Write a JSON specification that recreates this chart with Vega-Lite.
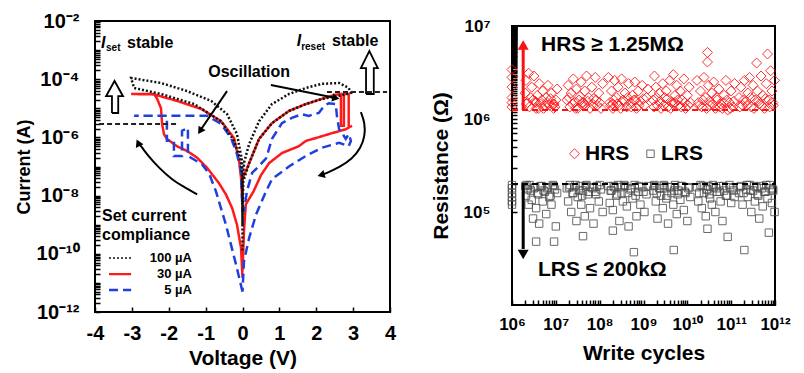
{
"$schema": "https://vega.github.io/schema/vega-lite/v6.json",
"background": "white",
"padding": {"left": 14, "top": 10, "right": 2, "bottom": 2},
"spacing": 32,
"center": true,
"resolve": {"scale": {"color": "independent", "shape": "independent", "size": "independent", "strokeDash": "independent", "strokeWidth": "independent"}, "legend": {"color": "independent", "shape": "independent", "size": "independent", "strokeDash": "independent", "strokeWidth": "independent"}},
"config": {
  "font": "Liberation Sans",
  "view": {"stroke": "#000", "strokeWidth": 2},
  "axis": {"domain": false, "grid": false, "tickColor": "#000", "tickSize": -5, "tickWidth": 1.5, "labelFont": "Liberation Sans", "labelFontWeight": "bold", "labelColor": "#000", "titleFont": "Liberation Sans", "titleFontWeight": "bold", "titleColor": "#000", "labelOverlap": false, "labelFlush": false},
  "legend": {"labelFont": "Liberation Sans", "titleFont": "Liberation Sans"}
},
"datasets": {
  "iv": [
    {"s":"30 µA","o":1,"v":0,"i":1.5e-11},{"s":"30 µA","o":2,"v":-0.04,"i":1.6e-10},{"s":"30 µA","o":3,"v":-0.15,"i":1.0e-9},{"s":"30 µA","o":4,"v":-0.28,"i":3.7e-9},{"s":"30 µA","o":5,"v":-0.45,"i":1.1e-8},{"s":"30 µA","o":6,"v":-0.64,"i":2.7e-8},{"s":"30 µA","o":7,"v":-0.83,"i":5.5e-8},{"s":"30 µA","o":8,"v":-0.96,"i":9.0e-8},{"s":"30 µA","o":9,"v":-1.23,"i":2.0e-7},{"s":"30 µA","o":10,"v":-1.50,"i":3.4e-7},{"s":"30 µA","o":11,"v":-1.78,"i":5.0e-7},{"s":"30 µA","o":12,"v":-2.05,"i":8.9e-7},{"s":"30 µA","o":13,"v":-2.13,"i":1.3e-6},{"s":"30 µA","o":14,"v":-2.18,"i":2.9e-6},{"s":"30 µA","o":15,"v":-2.21,"i":1.0e-5},{"s":"30 µA","o":16,"v":-2.32,"i":2.2e-5},{"s":"30 µA","o":17,"v":-2.40,"i":3.1e-5},{"s":"30 µA","o":18,"v":-3.02,"i":3.1e-5},{"s":"30 µA","o":19,"v":-2.40,"i":3.0e-5},{"s":"30 µA","o":20,"v":-1.78,"i":1.8e-5},{"s":"30 µA","o":21,"v":-1.12,"i":9.5e-6},{"s":"30 µA","o":22,"v":-0.58,"i":3.6e-6},{"s":"30 µA","o":23,"v":-0.23,"i":9.5e-7},{"s":"30 µA","o":24,"v":-0.09,"i":1.5e-7},{"s":"30 µA","o":25,"v":-0.04,"i":4.0e-8},{"s":"30 µA","o":26,"v":0,"i":5.0e-9},{"s":"30 µA","o":27,"v":0,"i":3.7e-8},{"s":"30 µA","o":28,"v":0.18,"i":1.3e-7},{"s":"30 µA","o":29,"v":0.45,"i":8.9e-7},{"s":"30 µA","o":30,"v":0.80,"i":3.1e-6},{"s":"30 µA","o":31,"v":1.26,"i":8.1e-6},{"s":"30 µA","o":32,"v":1.72,"i":1.4e-5},{"s":"30 µA","o":33,"v":2.15,"i":2.1e-5},{"s":"30 µA","o":34,"v":2.50,"i":2.9e-5},{"s":"30 µA","o":35,"v":2.67,"i":3.1e-5},{"s":"30 µA","o":36,"v":2.67,"i":2.5e-6},{"s":"30 µA","o":37,"v":2.75,"i":2.5e-6},{"s":"30 µA","o":38,"v":2.75,"i":3.1e-5},{"s":"30 µA","o":39,"v":2.88,"i":3.1e-5},{"s":"30 µA","o":40,"v":2.88,"i":2.2e-6},{"s":"30 µA","o":41,"v":2.97,"i":2.5e-6},{"s":"30 µA","o":42,"v":2.80,"i":1.9e-6},{"s":"30 µA","o":43,"v":2.43,"i":1.4e-6},{"s":"30 µA","o":44,"v":1.99,"i":9.5e-7},{"s":"30 µA","o":45,"v":1.72,"i":7.6e-7},{"s":"30 µA","o":46,"v":1.53,"i":5.0e-7},{"s":"30 µA","o":47,"v":1.07,"i":2.9e-7},{"s":"30 µA","o":48,"v":0.72,"i":1.3e-7},{"s":"30 µA","o":49,"v":0.50,"i":5.0e-8},{"s":"30 µA","o":50,"v":0.30,"i":1.4e-8},{"s":"30 µA","o":51,"v":0.09,"i":5.0e-9},{"s":"30 µA","o":52,"v":0.04,"i":6.0e-10},{"s":"30 µA","o":53,"v":0,"i":2.5e-11},
    {"s":"5 µA","o":1,"v":0,"i":5e-12},{"s":"5 µA","o":2,"v":-0.18,"i":4.5e-11},{"s":"5 µA","o":3,"v":-0.45,"i":1.0e-9},{"s":"5 µA","o":4,"v":-0.72,"i":1.4e-8},{"s":"5 µA","o":5,"v":-0.90,"i":5.5e-8},{"s":"5 µA","o":6,"v":-1.10,"i":1.2e-7},{"s":"5 µA","o":7,"v":-1.48,"i":2.3e-7},{"s":"5 µA","o":8,"v":-1.48,"i":2.1e-6},{"s":"5 µA","o":9,"v":-1.64,"i":1.7e-6},{"s":"5 µA","o":10,"v":-1.64,"i":2.3e-7},{"s":"5 µA","o":11,"v":-1.80,"i":2.3e-7},{"s":"5 µA","o":12,"v":-1.86,"i":2.3e-7},{"s":"5 µA","o":13,"v":-1.86,"i":7.6e-7},{"s":"5 µA","o":14,"v":-2.05,"i":7.6e-7},{"s":"5 µA","o":15,"v":-2.05,"i":5.5e-6},{"s":"5 µA","o":16,"v":-2.94,"i":5.5e-6},{"s":"5 µA","o":17,"v":-0.96,"i":5.5e-6},{"s":"5 µA","o":18,"v":-0.58,"i":2.9e-6},{"s":"5 µA","o":19,"v":-0.31,"i":9.5e-7},{"s":"5 µA","o":20,"v":-0.15,"i":2.7e-7},{"s":"5 µA","o":21,"v":-0.04,"i":7.0e-8},{"s":"5 µA","o":22,"v":0,"i":3.0e-9},{"s":"5 µA","o":23,"v":0.04,"i":3.0e-9},{"s":"5 µA","o":24,"v":0.12,"i":1.4e-8},{"s":"5 µA","o":25,"v":0.26,"i":6.0e-8},{"s":"5 µA","o":26,"v":0.40,"i":9.0e-8},{"s":"5 µA","o":27,"v":0.64,"i":1.9e-7},{"s":"5 µA","o":28,"v":0.80,"i":8.9e-7},{"s":"5 µA","o":29,"v":1.07,"i":3.1e-6},{"s":"5 µA","o":30,"v":1.34,"i":4.7e-6},{"s":"5 µA","o":31,"v":1.61,"i":6.3e-6},{"s":"5 µA","o":32,"v":1.80,"i":5.5e-6},{"s":"5 µA","o":33,"v":1.94,"i":6.3e-6},{"s":"5 µA","o":34,"v":2.07,"i":6.9e-6},{"s":"5 µA","o":35,"v":2.21,"i":1.2e-5},{"s":"5 µA","o":36,"v":2.34,"i":1.5e-5},{"s":"5 µA","o":37,"v":2.53,"i":1.4e-5},{"s":"5 µA","o":38,"v":2.56,"i":5.5e-6},{"s":"5 µA","o":39,"v":2.62,"i":1.9e-6},{"s":"5 µA","o":40,"v":2.70,"i":1.4e-6},{"s":"5 µA","o":41,"v":2.80,"i":8.9e-7},{"s":"5 µA","o":42,"v":2.88,"i":1.3e-6},{"s":"5 µA","o":43,"v":2.94,"i":7.6e-7},{"s":"5 µA","o":44,"v":2.88,"i":5.0e-7},{"s":"5 µA","o":45,"v":2.62,"i":6.5e-7},{"s":"5 µA","o":46,"v":2.15,"i":4.4e-7},{"s":"5 µA","o":47,"v":1.72,"i":2.3e-7},{"s":"5 µA","o":48,"v":1.26,"i":1.0e-7},{"s":"5 µA","o":49,"v":0.80,"i":3.7e-8},{"s":"5 µA","o":50,"v":0.64,"i":1.4e-8},{"s":"5 µA","o":51,"v":0.37,"i":2.3e-9},{"s":"5 µA","o":52,"v":0.18,"i":3.5e-10},{"s":"5 µA","o":53,"v":0.04,"i":5.6e-11},{"s":"5 µA","o":54,"v":0,"i":5e-12},
    {"s":"100 µA","o":1,"v":0,"i":1.3e-10},{"s":"100 µA","o":2,"v":0,"i":3.0e-8},{"s":"100 µA","o":3,"v":0.05,"i":1.5e-7},{"s":"100 µA","o":4,"v":0.18,"i":5.9e-7},{"s":"100 µA","o":5,"v":0.45,"i":3.6e-6},{"s":"100 µA","o":6,"v":0.80,"i":1.4e-5},{"s":"100 µA","o":7,"v":1.26,"i":3.1e-5},{"s":"100 µA","o":8,"v":1.72,"i":5.0e-5},{"s":"100 µA","o":9,"v":2.15,"i":6.9e-5},{"s":"100 µA","o":10,"v":2.62,"i":7.4e-5},{"s":"100 µA","o":11,"v":2.88,"i":5.0e-5},{"s":"100 µA","o":12,"v":2.94,"i":3.4e-5},{"s":"100 µA","o":13,"v":2.62,"i":2.7e-5},{"s":"100 µA","o":14,"v":2.15,"i":2.1e-5},{"s":"100 µA","o":15,"v":1.72,"i":1.4e-5},{"s":"100 µA","o":16,"v":1.26,"i":8.1e-6},{"s":"100 µA","o":17,"v":0.80,"i":3.1e-6},{"s":"100 µA","o":18,"v":0.45,"i":8.9e-7},{"s":"100 µA","o":19,"v":0.18,"i":1.3e-7},{"s":"100 µA","o":20,"v":0.02,"i":3.0e-8},{"s":"100 µA","o":21,"v":0,"i":1.0e-9},{"s":"100 µA","o":22,"v":-0.01,"i":1.5e-7},{"s":"100 µA","o":23,"v":-0.15,"i":1.3e-6},{"s":"100 µA","o":24,"v":-0.42,"i":6.3e-6},{"s":"100 µA","o":25,"v":-0.85,"i":1.8e-5},{"s":"100 µA","o":26,"v":-1.50,"i":3.9e-5},{"s":"100 µA","o":27,"v":-2.21,"i":7.4e-5},{"s":"100 µA","o":28,"v":-3.02,"i":1.1e-4},{"s":"100 µA","o":29,"v":-2.94,"i":5.0e-5},{"s":"100 µA","o":30,"v":-2.21,"i":3.1e-5},{"s":"100 µA","o":31,"v":-1.31,"i":1.4e-5},{"s":"100 µA","o":32,"v":-0.58,"i":3.6e-6},{"s":"100 µA","o":33,"v":-0.23,"i":7.6e-7},{"s":"100 µA","o":34,"v":-0.04,"i":1.5e-7},{"s":"100 µA","o":35,"v":0,"i":3.0e-8}
  ],
  "key": [
    {"s":"100 µA","v":-3.62,"v2":-3.02,"vl":-1.37,"i":7.2e-11},
    {"s":"30 µA","v":-3.62,"v2":-3.02,"vl":-1.37,"i":2.0e-11},
    {"s":"5 µA","v":-3.62,"v2":-3.02,"vl":-1.37,"i":5.7e-12}
  ],
  "blk": [
    {"id":"a","o":1,"v":-3.54,"i":6.9e-6},{"id":"a","o":2,"v":-3.54,"i":2.6e-5},{"id":"a","o":3,"v":-3.70,"i":2.6e-5},{"id":"a","o":4,"v":-3.47,"i":8.7e-5},{"id":"a","o":5,"v":-3.24,"i":2.6e-5},{"id":"a","o":6,"v":-3.37,"i":2.6e-5},{"id":"a","o":7,"v":-3.37,"i":6.9e-6},{"id":"a","o":8,"v":-3.54,"i":6.9e-6},
    {"id":"b","o":1,"v":3.35,"i":3.1e-5},{"id":"b","o":2,"v":3.35,"i":2.4e-4},{"id":"b","o":3,"v":3.21,"i":2.4e-4},{"id":"b","o":4,"v":3.44,"i":9.3e-4},{"id":"b","o":5,"v":3.67,"i":2.4e-4},{"id":"b","o":6,"v":3.56,"i":2.4e-4},{"id":"b","o":7,"v":3.56,"i":3.1e-5},{"id":"b","o":8,"v":3.35,"i":3.1e-5}
  ],
  "crv": [
    {"id":"c1","o":1,"v":-1.23,"i":1.1e-8},{"id":"c1","o":2,"v":-1.59,"i":2.0e-8},{"id":"c1","o":3,"v":-1.91,"i":3.5e-8},{"id":"c1","o":4,"v":-2.26,"i":8.9e-8},{"id":"c1","o":5,"v":-2.53,"i":2.1e-7},{"id":"c1","o":6,"v":-2.75,"i":5.0e-7},{"id":"c1","o":7,"v":-2.83,"i":6.5e-7},
    {"id":"c2","o":1,"v":3.21,"i":7.4e-6},{"id":"c2","o":2,"v":3.32,"i":3.1e-6},{"id":"c2","o":3,"v":3.32,"i":1.1e-6},{"id":"c2","o":4,"v":3.21,"i":4.4e-7},{"id":"c2","o":5,"v":2.97,"i":1.8e-7},{"id":"c2","o":6,"v":2.64,"i":9.6e-8},{"id":"c2","o":7,"v":2.29,"i":6.0e-8},{"id":"c2","o":8,"v":2.13,"i":5.1e-8},
    {"id":"c3","o":1,"v":-0.42,"i":3.9e-5},{"id":"c3","o":2,"v":-1.15,"i":1.7e-6},
    {"id":"c4","o":1,"v":0.77,"i":6.3e-5},{"id":"c4","o":2,"v":2.53,"i":2.25e-5}
  ],
  "heads": [
    {"id":"h1","v":-2.83,"i":6.5e-7},{"id":"h2","v":2.13,"i":5.1e-8},{"id":"h3","v":-1.15,"i":1.66e-6},{"id":"h4","v":2.53,"i":2.24e-5}
  ],
  "rs": [
    {"c":1e6,"HRS":3.4e6,"LRS":1.95e5},{"c":1e6,"HRS":2.8e6,"LRS":1.8e5},{"c":1e6,"HRS":2.2e6,"LRS":1.6e5},{"c":1e6,"HRS":1.7e6,"LRS":1.45e5},{"c":1e6,"HRS":1.35e6,"LRS":1.3e5},{"c":1e6,"HRS":1.5e6,"LRS":1.2e5},
    {"c":2.0e6,"HRS":1.9e6,"LRS":1.9e5},{"c":2.09e6,"HRS":2.6e6,"LRS":1.5e5},{"c":2.24e6,"HRS":1.5e6,"LRS":1.75e5},{"c":2.4e6,"HRS":3.1e6,"LRS":1.2e5},{"c":2.51e6,"HRS":1.35e6,"LRS":1.95e5},{"c":2.82e6,"HRS":2.2e6,"LRS":1.35e5},{"c":3.02e6,"HRS":1.6e6,"LRS":8.5e4},{"c":3.16e6,"HRS":2.9e6,"LRS":1.8e5},{"c":3.55e6,"HRS":1.3e6,"LRS":1.1e5},{"c":3.8e6,"HRS":1.8e6,"LRS":1.6e5},{"c":4.17e6,"HRS":2.4e6,"LRS":7.5e4},{"c":4.47e6,"HRS":1.45e6,"LRS":1.9e5},{"c":5.01e6,"HRS":2.0e6,"LRS":1.3e5},{"c":5.25e6,"HRS":1.3e6,"LRS":1.7e5},{"c":6.03e6,"HRS":1.7e6,"LRS":9.5e4},{"c":6.61e6,"HRS":2.3e6,"LRS":1.85e5},{"c":7.08e6,"HRS":1.4e6,"LRS":1.45e5},{"c":7.94e6,"HRS":1.9e6,"LRS":1.2e5},{"c":8.91e6,"HRS":1.3e6,"LRS":1.9e5},{"c":1.0e7,"HRS":1.6e6,"LRS":7.0e4},{"c":1.07e7,"HRS":2.1e6,"LRS":1.6e5},{"c":3.55e6,"HRS":1.5e6,"LRS":4.8e4},{"c":9.12e6,"HRS":1.45e6,"LRS":4.8e4},
    {"c":2.14e6,"HRS":1.45e6,"LRS":1.95e5},{"c":2.69e6,"HRS":1.7e6,"LRS":1.7e5},{"c":3.39e6,"HRS":1.55e6,"LRS":1.85e5},{"c":3.98e6,"HRS":1.3e6,"LRS":1.55e5},{"c":4.79e6,"HRS":1.6e6,"LRS":1.9e5},{"c":5.62e6,"HRS":1.4e6,"LRS":1.65e5},{"c":6.31e6,"HRS":1.5e6,"LRS":1.8e5},{"c":7.59e6,"HRS":1.65e6,"LRS":1.5e5},{"c":8.51e6,"HRS":1.45e6,"LRS":1.95e5},{"c":9.55e6,"HRS":1.35e6,"LRS":1.75e5},
    {"c":1.78e7,"HRS":1.6e6,"LRS":1.8e5},{"c":1.91e7,"HRS":2.3e6,"LRS":1.3e5},{"c":2.09e7,"HRS":1.35e6,"LRS":1.95e5},{"c":2.24e7,"HRS":1.9e6,"LRS":1.0e5},{"c":2.51e7,"HRS":2.7e6,"LRS":1.6e5},{"c":2.63e7,"HRS":1.5e6,"LRS":1.85e5},{"c":2.95e7,"HRS":2.1e6,"LRS":8.0e4},{"c":3.16e7,"HRS":1.3e6,"LRS":1.45e5},{"c":3.55e7,"HRS":1.75e6,"LRS":1.9e5},{"c":3.8e7,"HRS":2.5e6,"LRS":1.2e5},{"c":4.17e7,"HRS":1.4e6,"LRS":1.7e5},{"c":4.57e7,"HRS":2.0e6,"LRS":9.0e4},{"c":5.01e7,"HRS":2.9e6,"LRS":1.95e5},{"c":5.37e7,"HRS":1.55e6,"LRS":1.55e5},{"c":6.03e7,"HRS":1.3e6,"LRS":1.1e5},{"c":6.61e7,"HRS":2.2e6,"LRS":1.85e5},{"c":7.24e7,"HRS":1.65e6,"LRS":7.5e4},{"c":7.94e7,"HRS":2.8e6,"LRS":1.65e5},{"c":8.71e7,"HRS":1.4e6,"LRS":1.9e5},{"c":9.55e7,"HRS":1.9e6,"LRS":1.3e5},{"c":1.07e8,"HRS":1.3e6,"LRS":1.75e5},{"c":1.17e8,"HRS":2.4e6,"LRS":1.0e5},{"c":4.17e7,"HRS":1.5e6,"LRS":5.5e4},
    {"c":2.0e7,"HRS":1.7e6,"LRS":1.85e5},{"c":2.4e7,"HRS":1.45e6,"LRS":1.6e5},{"c":2.82e7,"HRS":1.3e6,"LRS":1.95e5},{"c":3.39e7,"HRS":1.6e6,"LRS":1.7e5},{"c":3.98e7,"HRS":1.5e6,"LRS":1.5e5},{"c":4.79e7,"HRS":1.4e6,"LRS":1.9e5},{"c":5.62e7,"HRS":1.7e6,"LRS":1.65e5},{"c":6.92e7,"HRS":1.45e6,"LRS":1.8e5},{"c":8.32e7,"HRS":1.6e6,"LRS":1.55e5},{"c":1.0e8,"HRS":1.5e6,"LRS":1.95e5},
    {"c":1.58e8,"HRS":2.8e6,"LRS":1.9e5},{"c":1.7e8,"HRS":1.5e6,"LRS":1.25e5},{"c":1.86e8,"HRS":2.0e6,"LRS":1.7e5},{"c":2.0e8,"HRS":1.3e6,"LRS":1.05e5},{"c":2.19e8,"HRS":2.6e6,"LRS":1.85e5},{"c":2.4e8,"HRS":1.7e6,"LRS":1.5e5},{"c":2.63e8,"HRS":2.2e6,"LRS":1.95e5},{"c":2.82e8,"HRS":1.4e6,"LRS":8.0e4},{"c":3.16e8,"HRS":2.7e6,"LRS":1.6e5},{"c":3.39e8,"HRS":1.6e6,"LRS":1.3e5},{"c":3.8e8,"HRS":1.9e6,"LRS":1.9e5},{"c":4.17e8,"HRS":1.35e6,"LRS":1.15e5},{"c":4.57e8,"HRS":2.4e6,"LRS":7.0e4},{"c":5.01e8,"HRS":1.5e6,"LRS":1.75e5},{"c":5.62e8,"HRS":1.8e6,"LRS":1.4e5},{"c":6.31e8,"HRS":2.5e6,"LRS":1.95e5},{"c":6.92e8,"HRS":1.3e6,"LRS":9.0e4},{"c":7.59e8,"HRS":2.0e6,"LRS":1.65e5},{"c":8.51e8,"HRS":1.55e6,"LRS":1.2e5},{"c":9.33e8,"HRS":2.3e6,"LRS":1.85e5},{"c":1.05e9,"HRS":1.4e6,"LRS":1.0e5},{"c":1.17e9,"HRS":1.7e6,"LRS":1.55e5},{"c":1.26e9,"HRS":2.1e6,"LRS":1.9e5},{"c":2.0e8,"HRS":1.45e6,"LRS":6.3e4},{"c":6.03e8,"HRS":1.6e6,"LRS":3.7e4},
    {"c":1.78e8,"HRS":1.4e6,"LRS":1.7e5},{"c":2.09e8,"HRS":1.6e6,"LRS":1.9e5},{"c":2.51e8,"HRS":1.45e6,"LRS":1.55e5},{"c":3.02e8,"HRS":1.3e6,"LRS":1.85e5},{"c":3.63e8,"HRS":1.55e6,"LRS":1.95e5},{"c":4.37e8,"HRS":1.7e6,"LRS":1.6e5},{"c":5.25e8,"HRS":1.35e6,"LRS":1.8e5},{"c":6.61e8,"HRS":1.6e6,"LRS":1.5e5},{"c":7.94e8,"HRS":1.4e6,"LRS":1.9e5},{"c":1.0e9,"HRS":1.65e6,"LRS":1.65e5},
    {"c":1.66e9,"HRS":1.6e6,"LRS":1.7e5},{"c":1.78e9,"HRS":2.9e6,"LRS":1.95e5},{"c":1.91e9,"HRS":2.2e6,"LRS":1.3e5},{"c":2.09e9,"HRS":1.4e6,"LRS":8.5e4},{"c":2.29e9,"HRS":1.9e6,"LRS":1.8e5},{"c":2.51e9,"HRS":1.3e6,"LRS":1.5e5},{"c":2.75e9,"HRS":2.4e6,"LRS":1.1e5},{"c":3.02e9,"HRS":1.7e6,"LRS":1.9e5},{"c":3.31e9,"HRS":2.0e6,"LRS":1.4e5},{"c":3.63e9,"HRS":1.35e6,"LRS":7.5e4},{"c":3.98e9,"HRS":2.6e6,"LRS":1.85e5},{"c":4.37e9,"HRS":1.5e6,"LRS":1.6e5},{"c":4.79e9,"HRS":3.0e6,"LRS":1.2e5},{"c":5.25e9,"HRS":1.8e6,"LRS":1.95e5},{"c":5.75e9,"HRS":2.3e6,"LRS":9.5e4},{"c":6.31e9,"HRS":1.4e6,"LRS":1.7e5},{"c":6.92e9,"HRS":2.0e6,"LRS":1.35e5},{"c":7.59e9,"HRS":1.6e6,"LRS":1.9e5},{"c":8.32e9,"HRS":2.7e6,"LRS":1.05e5},{"c":9.12e9,"HRS":1.3e6,"LRS":1.6e5},{"c":1.0e10,"HRS":1.8e6,"LRS":8.0e4},{"c":1.1e10,"HRS":2.2e6,"LRS":1.85e5},{"c":1.17e10,"HRS":1.5e6,"LRS":1.45e5},{"c":4.9e9,"HRS":1.45e6,"LRS":3.9e4},
    {"c":1.74e9,"HRS":1.35e6,"LRS":1.9e5},{"c":2.0e9,"HRS":1.7e6,"LRS":1.6e5},{"c":2.4e9,"HRS":1.55e6,"LRS":1.8e5},{"c":2.88e9,"HRS":1.4e6,"LRS":1.95e5},{"c":3.47e9,"HRS":1.65e6,"LRS":1.5e5},{"c":4.17e9,"HRS":1.3e6,"LRS":1.85e5},{"c":5.01e9,"HRS":1.5e6,"LRS":1.7e5},{"c":6.03e9,"HRS":1.6e6,"LRS":1.55e5},{"c":7.24e9,"HRS":1.35e6,"LRS":1.9e5},{"c":8.71e9,"HRS":1.5e6,"LRS":1.65e5},{"c":1.05e10,"HRS":1.4e6,"LRS":1.8e5},
    {"c":1.66e10,"HRS":2.6e6,"LRS":1.85e5},{"c":1.78e10,"HRS":1.5e6,"LRS":1.3e5},{"c":2.0e10,"HRS":2.0e6,"LRS":1.95e5},{"c":2.14e10,"HRS":1.35e6,"LRS":1.1e5},{"c":2.4e10,"HRS":2.8e6,"LRS":1.6e5},{"c":2.63e10,"HRS":1.7e6,"LRS":9.0e4},{"c":2.88e10,"HRS":5.2e6,"LRS":6.6e4},{"c":2.88e10,"HRS":4.1e6,"LRS":1.75e5},{"c":3.02e10,"HRS":2.3e6,"LRS":1.9e5},{"c":3.31e10,"HRS":1.4e6,"LRS":1.4e5},{"c":3.63e10,"HRS":1.9e6,"LRS":1.2e5},{"c":3.98e10,"HRS":2.5e6,"LRS":1.85e5},{"c":4.37e10,"HRS":1.3e6,"LRS":1.0e5},{"c":4.79e10,"HRS":1.6e6,"LRS":1.65e5},{"c":5.25e10,"HRS":2.1e6,"LRS":1.9e5},{"c":5.75e10,"HRS":1.45e6,"LRS":1.3e5},{"c":6.31e10,"HRS":1.3e6,"LRS":8.0e4},{"c":6.92e10,"HRS":1.8e6,"LRS":1.7e5},{"c":7.59e10,"HRS":2.6e6,"LRS":1.5e5},{"c":8.32e10,"HRS":1.25e6,"LRS":5.4e4},{"c":9.12e10,"HRS":1.5e6,"LRS":1.95e5},{"c":1.0e11,"HRS":2.0e6,"LRS":1.25e5},{"c":1.1e11,"HRS":1.35e6,"LRS":1.8e5},{"c":1.2e11,"HRS":2.4e6,"LRS":1.45e5},
    {"c":1.86e10,"HRS":1.4e6,"LRS":1.6e5},{"c":2.24e10,"HRS":1.6e6,"LRS":1.9e5},{"c":2.75e10,"HRS":1.3e6,"LRS":1.75e5},{"c":3.16e10,"HRS":1.55e6,"LRS":1.55e5},{"c":3.8e10,"HRS":1.45e6,"LRS":1.95e5},{"c":4.57e10,"HRS":1.7e6,"LRS":1.8e5},{"c":5.5e10,"HRS":1.35e6,"LRS":1.65e5},{"c":6.61e10,"HRS":1.5e6,"LRS":1.9e5},{"c":7.94e10,"HRS":1.6e6,"LRS":1.5e5},{"c":9.55e10,"HRS":1.3e6,"LRS":1.85e5},{"c":1.15e11,"HRS":1.55e6,"LRS":1.7e5},
    {"c":1.51e11,"HRS":1.7e6,"LRS":1.6e5},{"c":1.66e11,"HRS":2.2e6,"LRS":1.9e5},{"c":1.82e11,"HRS":1.4e6,"LRS":1.2e5},{"c":2.0e11,"HRS":2.6e6,"LRS":3.9e4},{"c":2.19e11,"HRS":1.55e6,"LRS":1.75e5},{"c":2.4e11,"HRS":1.9e6,"LRS":1.45e5},{"c":2.63e11,"HRS":2.8e6,"LRS":1.95e5},{"c":2.88e11,"HRS":1.35e6,"LRS":1.0e5},{"c":3.16e11,"HRS":2.3e6,"LRS":1.7e5},{"c":3.47e11,"HRS":1.6e6,"LRS":1.3e5},{"c":3.8e11,"HRS":4.0e6,"LRS":1.85e5},{"c":3.98e11,"HRS":2.0e6,"LRS":1.55e5},{"c":4.37e11,"HRS":1.45e6,"LRS":8.5e4},{"c":4.79e11,"HRS":2.9e6,"LRS":1.9e5},{"c":5.25e11,"HRS":1.8e6,"LRS":1.15e5},{"c":5.75e11,"HRS":1.3e6,"LRS":1.65e5},{"c":6.31e11,"HRS":2.4e6,"LRS":1.95e5},{"c":6.76e11,"HRS":5.0e6,"LRS":1.4e5},{"c":7.24e11,"HRS":1.6e6,"LRS":6.0e4},{"c":7.94e11,"HRS":3.3e6,"LRS":1.8e5},{"c":8.51e11,"HRS":2.0e6,"LRS":1.25e5},{"c":9.12e11,"HRS":1.4e6,"LRS":1.7e5},{"c":9.77e11,"HRS":2.6e6,"LRS":1.0e5},
    {"c":1.58e11,"HRS":1.35e6,"LRS":1.85e5},{"c":1.91e11,"HRS":1.6e6,"LRS":1.6e5},{"c":2.29e11,"HRS":1.4e6,"LRS":1.95e5},{"c":2.75e11,"HRS":1.7e6,"LRS":1.7e5},{"c":3.31e11,"HRS":1.3e6,"LRS":1.9e5},{"c":4.17e11,"HRS":1.55e6,"LRS":1.5e5},{"c":5.01e11,"HRS":1.4e6,"LRS":1.8e5},{"c":6.03e11,"HRS":1.65e6,"LRS":1.65e5},{"c":7.59e11,"HRS":1.35e6,"LRS":1.95e5},{"c":8.91e11,"HRS":1.5e6,"LRS":1.75e5}
  ]
},
"hconcat": [
  {
    "width": 295,
    "height": 291,
    "encoding": {
      "x": {"field": "v", "type": "quantitative", "scale": {"domain": [-4, 4], "nice": false, "zero": false},
            "axis": {"title": "Voltage (V)", "values": [-4,-3,-2,-1,0,1,2,3,4], "labelExpr": "datum.value < 0 ? '-' + (-datum.value) : '' + datum.value", "labelFontSize": 20, "labelPadding": 16, "titleFontSize": 21, "titlePadding": 4}},
      "y": {"field": "i", "type": "quantitative", "scale": {"type": "log", "domain": [1e-12, 1e-2], "nice": false},
            "axis": {"title": "Current (A)", "tickCount": 100, "labelExpr": "abs(log(datum.value)/LN10+2)<1e-6?'10⁻²':abs(log(datum.value)/LN10+4)<1e-6?'10⁻⁴':abs(log(datum.value)/LN10+6)<1e-6?'10⁻⁶':abs(log(datum.value)/LN10+8)<1e-6?'10⁻⁸':abs(log(datum.value)/LN10+10)<1e-6?'10⁻¹⁰':abs(log(datum.value)/LN10+12)<1e-6?'10⁻¹²':''", "labelFontSize": 20, "labelPadding": 21, "titleFontSize": 18, "titlePadding": 3}}
    },
    "layer": [
      {"data": {"name": "iv"}, "mark": {"type": "line", "strokeWidth": 2.5},
       "encoding": {
         "order": {"field": "o", "type": "quantitative"},
         "color": {"field": "s", "type": "nominal", "scale": {"domain": ["100 µA", "30 µA", "5 µA"], "range": ["#111111", "#ff1a1a", "#1f3fe0"]}, "legend": null},
         "strokeDash": {"field": "s", "type": "nominal", "scale": {"domain": ["100 µA", "30 µA", "5 µA"], "range": [[2, 2], [1, 0], [9, 5]]}, "legend": null},
         "strokeWidth": {"field": "s", "type": "nominal", "scale": {"domain": ["100 µA", "30 µA", "5 µA"], "range": [1.6, 2.5, 2.5]}, "legend": null}
       }},
      {"data": {"name": "key"}, "mark": {"type": "rule"},
       "encoding": {
         "x2": {"field": "v2"},
         "color": {"field": "s", "type": "nominal", "legend": null},
         "strokeDash": {"field": "s", "type": "nominal", "legend": null},
         "strokeWidth": {"field": "s", "type": "nominal", "legend": null}
       }},
      {"data": {"name": "key"}, "mark": {"type": "text", "align": "right", "baseline": "middle", "fontSize": 13, "fontWeight": "bold", "color": "#000"},
       "encoding": {"x": {"field": "vl", "type": "quantitative"}, "text": {"field": "s"}}},
      {"data": {"values": [{"v": -3.81, "i": 2.0e-9, "t": "Set current"}, {"v": -3.81, "i": 4.5e-10, "t": "compliance"}]},
       "mark": {"type": "text", "align": "left", "baseline": "middle", "fontSize": 16, "fontWeight": "bold", "color": "#000"},
       "encoding": {"text": {"field": "t"}}},
      {"data": {"values": [{"v": -3.89, "v2": -1.78, "i": 2.9e-6}, {"v": 2.29, "v2": 3.92, "i": 3.6e-5}]},
       "mark": {"type": "rule", "color": "#222", "strokeWidth": 2, "strokeDash": [5, 3]},
       "encoding": {"x2": {"field": "v2"}}},
      {"data": {"name": "blk"}, "mark": {"type": "line", "color": "#000", "strokeWidth": 1.8},
       "encoding": {"detail": {"field": "id"}, "order": {"field": "o", "type": "quantitative"}}},
      {"data": {"name": "crv"}, "mark": {"type": "line", "color": "#000", "strokeWidth": 2, "interpolate": "basis"},
       "encoding": {"detail": {"field": "id"}, "order": {"field": "o", "type": "quantitative"}}},
      {"data": {"name": "heads"}, "transform": [{"filter": "datum.id == 'h1'"}], "mark": {"type": "point", "shape": "triangle-up", "filled": true, "color": "#000", "opacity": 1, "size": 70, "angle": 335}, "encoding": {}},
      {"data": {"name": "heads"}, "transform": [{"filter": "datum.id == 'h2'"}], "mark": {"type": "point", "shape": "triangle-up", "filled": true, "color": "#000", "opacity": 1, "size": 70, "angle": 255}, "encoding": {}},
      {"data": {"name": "heads"}, "transform": [{"filter": "datum.id == 'h3'"}], "mark": {"type": "point", "shape": "triangle-up", "filled": true, "color": "#000", "opacity": 1, "size": 70, "angle": 213}, "encoding": {}},
      {"data": {"name": "heads"}, "transform": [{"filter": "datum.id == 'h4'"}], "mark": {"type": "point", "shape": "triangle-up", "filled": true, "color": "#000", "opacity": 1, "size": 70, "angle": 102}, "encoding": {}},
      {"data": {"values": [{"v": 0.18, "i": 1.78e-4, "t": "Oscillation"}]},
       "mark": {"type": "text", "align": "center", "baseline": "middle", "fontSize": 16, "fontWeight": "bold", "color": "#000"},
       "encoding": {"text": {"field": "t"}}},
      {"data": {"values": [{"v": -3.13, "i": 1.75e-3, "t": "stable"}, {"v": 2.43, "i": 2.05e-3, "t": "stable"}]},
       "mark": {"type": "text", "align": "left", "baseline": "middle", "fontSize": 16, "fontWeight": "bold", "color": "#000"},
       "encoding": {"text": {"field": "t"}}},
      {"data": {"values": [{"v": -3.78, "i": 1.75e-3, "t": "I"}, {"v": 1.53, "i": 2.05e-3, "t": "I"}]},
       "mark": {"type": "text", "align": "center", "baseline": "middle", "fontSize": 16, "fontWeight": "bold", "fontStyle": "italic", "color": "#000"},
       "encoding": {"text": {"field": "t"}}},
      {"data": {"values": [{"v": -3.70, "i": 1.18e-3, "t": "set"}, {"v": 1.59, "i": 1.29e-3, "t": "reset"}]},
       "mark": {"type": "text", "align": "left", "baseline": "middle", "fontSize": 10, "fontWeight": "bold", "color": "#000"},
       "encoding": {"text": {"field": "t"}}}
    ]
  },
  {
    "width": 263,
    "height": 279,
    "encoding": {
      "x": {"field": "c", "type": "quantitative", "scale": {"type": "log", "domain": [1e6, 1e12], "nice": false},
            "axis": {"title": "Write cycles", "tickCount": 100, "labelExpr": "abs(log(datum.value)/LN10-6)<1e-6?'10⁶':abs(log(datum.value)/LN10-7)<1e-6?'10⁷':abs(log(datum.value)/LN10-8)<1e-6?'10⁸':abs(log(datum.value)/LN10-9)<1e-6?'10⁹':abs(log(datum.value)/LN10-10)<1e-6?'10¹⁰':abs(log(datum.value)/LN10-11)<1e-6?'10¹¹':abs(log(datum.value)/LN10-12)<1e-6?'10¹²':''", "labelFontSize": 17, "labelPadding": 16, "titleFontSize": 21, "titlePadding": 10}},
      "y": {"field": "r", "type": "quantitative", "scale": {"type": "log", "domain": [1e4, 1e7], "nice": false},
            "axis": {"title": "Resistance (Ω)", "tickCount": 100, "labelExpr": "abs(log(datum.value)/LN10-4)<1e-6?'10⁴':abs(log(datum.value)/LN10-5)<1e-6?'10⁵':abs(log(datum.value)/LN10-6)<1e-6?'10⁶':abs(log(datum.value)/LN10-7)<1e-6?'10⁷':''", "labelFontSize": 17, "labelPadding": 27, "titleFontSize": 21, "titlePadding": 12}}
    },
    "layer": [
      {"data": {"name": "rs"}, "transform": [{"fold": ["HRS", "LRS"], "as": ["state", "r"]}],
       "mark": {"type": "point", "filled": false, "strokeWidth": 1, "opacity": 0.85},
       "encoding": {
         "color": {"field": "state", "type": "nominal", "scale": {"domain": ["HRS", "LRS"], "range": ["#ff1010", "#505050"]},
                   "legend": {"orient": "none", "legendX": 52, "legendY": 117, "direction": "horizontal", "title": null, "labelFontSize": 21, "labelFontWeight": "bold", "labelColor": "#000", "columnPadding": 10, "labelOffset": 0, "symbolStrokeWidth": 1, "padding": 0}},
         "shape": {"field": "state", "type": "nominal", "scale": {"domain": ["HRS", "LRS"], "range": ["diamond", "square"]}},
         "size": {"field": "state", "type": "nominal", "scale": {"domain": ["HRS", "LRS"], "range": [100, 55]}}
       }},
      {"data": {"values": [{"c": 1e6, "c2": 1e12, "r": 1.25e6}]}, "mark": {"type": "rule", "color": "#ff1010", "strokeWidth": 2, "strokeDash": [6, 4]}, "encoding": {"x2": {"field": "c2"}}},
      {"data": {"values": [{"c": 1e6, "c2": 1e12, "r": 2e5}]}, "mark": {"type": "rule", "color": "#000", "strokeWidth": 2, "strokeDash": [6, 4]}, "encoding": {"x2": {"field": "c2"}}},
      {"data": {"values": [{"c": 1.8e6, "r": 1.25e6, "r2": 6.0e6}]}, "mark": {"type": "rule", "color": "#ff1010", "strokeWidth": 3}, "encoding": {"y2": {"field": "r2"}}},
      {"data": {"values": [{"c": 1.8e6, "r": 2e5, "r2": 4.0e4}]}, "mark": {"type": "rule", "color": "#000", "strokeWidth": 3}, "encoding": {"y2": {"field": "r2"}}},
      {"data": {"values": [{"c": 1.8e6, "r": 6.25e6}]}, "mark": {"type": "point", "shape": "triangle-up", "filled": true, "color": "#ff1010", "opacity": 1, "size": 120}, "encoding": {}},
      {"data": {"values": [{"c": 1.8e6, "r": 3.5e4}]}, "mark": {"type": "point", "shape": "triangle-down", "filled": true, "color": "#000", "opacity": 1, "size": 120}, "encoding": {}},
      {"data": {"values": [{"c": 4.6e6, "r": 6.3e6, "t": "HRS ≥ 1.25MΩ"}, {"c": 3.9e6, "r": 2.38e4, "t": "LRS ≤ 200kΩ"}]},
       "mark": {"type": "text", "align": "left", "baseline": "middle", "fontSize": 21, "fontWeight": "bold", "color": "#000"},
       "encoding": {"text": {"field": "t"}}}
    ]
  }
]
}
